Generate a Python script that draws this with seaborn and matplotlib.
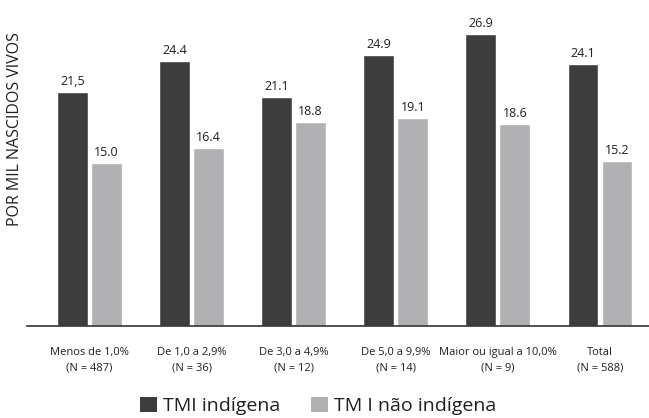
import matplotlib
matplotlib.use("Agg")
import matplotlib.pyplot as plt
from matplotlib.patches import Patch
import seaborn as sns
import pandas as pd

categories = ["Menos de 1,0%\n(N = 487)", "De 1,0 a 2,9%\n(N = 36)", "De 3,0 a 4,9%\n(N = 12)",
              "De 5,0 a 9,9%\n(N = 14)", "Maior ou igual a 10,0%\n(N = 9)", "Total\n(N = 588)"]
tmi_indigena = [21.5, 24.4, 21.1, 24.9, 26.9, 24.1]
tmi_nao_indigena = [15.0, 16.4, 18.8, 19.1, 18.6, 15.2]
label_indigena = ["21,5", "24.4", "21.1", "24.9", "26.9", "24.1"]
label_nao_indigena = ["15.0", "16.4", "18.8", "19.1", "18.6", "15.2"]
series_names = ["TMI indígena", "TM I não indígena"]

dark = "#3d3d3d"
light = "#b1b1b4"
text_color = "#231f20"

df = pd.DataFrame({
    "categoria": categories * 2,
    "taxa": tmi_indigena + tmi_nao_indigena,
    "serie": [series_names[0]] * len(categories) + [series_names[1]] * len(categories),
})

sns.set_style("white")
plt.rcParams["font.family"] = ["Open Sans", "DejaVu Sans"]

fig = plt.figure(figsize=(6.49, 4.18), dpi=100)
ax = fig.add_axes([27 / 649, 92 / 418, 1 - 27 / 649, 1 - 92 / 418])

sns.barplot(data=df, x="categoria", y="taxa", hue="serie", order=categories,
            hue_order=series_names, palette=[dark, light], width=0.666, gap=0.09,
            saturation=1, legend=False, ax=ax, errorbar=None)

for container, labels in zip(ax.containers, [label_indigena, label_nao_indigena]):
    ax.bar_label(container, labels=labels, padding=3, fontsize=9, color=text_color)

ax.set_xlim(-0.612, 5.48)
ax.set_ylim(0, 30)
ax.set_yticks([])
ax.set_xlabel("")
ax.set_ylabel("")
for side in ["top", "right", "left"]:
    ax.spines[side].set_visible(False)
ax.spines["bottom"].set_color("#333333")
ax.spines["bottom"].set_linewidth(1.2)
ax.tick_params(axis="x", length=0, pad=15, labelsize=8, labelcolor=text_color)
for lbl in ax.get_xticklabels():
    lbl.set_linespacing(1.55)

fig.text(15 / 649, 1 - 129 / 418, "POR MIL NASCIDOS VIVOS", rotation=90,
         ha="center", va="center", fontsize=11.5, color=text_color)

handles = [Patch(facecolor=dark, edgecolor="none"), Patch(facecolor=light, edgecolor="none")]
fig.legend(handles, series_names, loc="center", bbox_to_anchor=(0.49, 1 - 406 / 418),
           ncol=2, frameon=False, fontsize=14, handlelength=0.87, handleheight=0.87,
           handletextpad=0.3, columnspacing=1.6, labelcolor=text_color)

fig.savefig("out.png", dpi=100)
